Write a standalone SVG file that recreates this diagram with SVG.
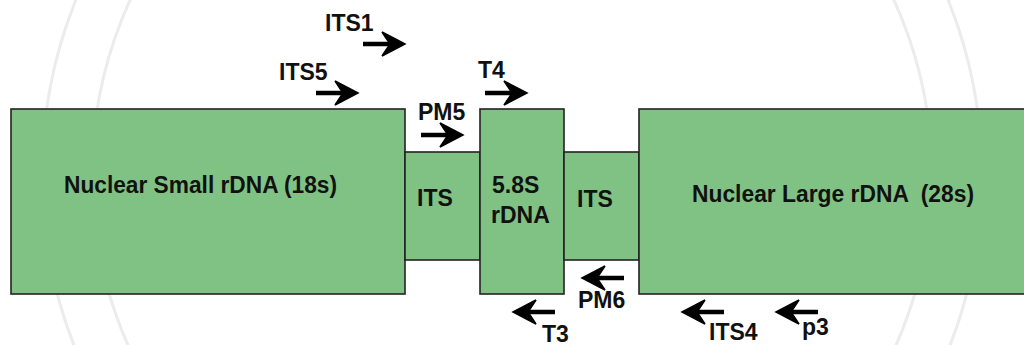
<svg xmlns="http://www.w3.org/2000/svg" xmlns:xlink="http://www.w3.org/1999/xlink" width="1024" height="345" viewBox="0 0 1024 345">
  <style>
    .box { fill: #80c283; stroke: #222; stroke-width: 1.6; }
    .lbl { font-family: "Liberation Sans", Arial, sans-serif; font-weight: bold; font-size: 23px; fill: #111; }
    .main { font-family: "Liberation Sans", Arial, sans-serif; font-weight: bold; font-size: 23px; fill: #111; }
    .wm { fill: none; stroke: #ececec; stroke-width: 3; }
  </style>
  <defs>
    <g id="arrowR">
      <line x1="-42" y1="0" x2="-14" y2="0" stroke="#000" stroke-width="4.5"/>
      <polygon points="0,0 -23,-12 -15,0 -23,12" fill="#000" stroke="#000" stroke-width="1.5" stroke-linejoin="miter"/>
    </g>
  </defs>
  <rect width="1024" height="345" fill="#fff"/>
  <g id="watermark">
    <circle class="wm" cx="512" cy="175" r="470"/>
    <circle class="wm" cx="512" cy="175" r="420"/>
  </g>

  <g id="n18s">
    <rect class="box" x="11" y="109" width="394" height="185"/>
    <text class="main" x="64" y="193" textLength="273" lengthAdjust="spacingAndGlyphs">Nuclear Small rDNA (18s)</text>
  </g>
  <g id="its1box">
    <rect class="box" x="405" y="152" width="75" height="108"/>
    <text class="lbl" x="417" y="206">ITS</text>
  </g>
  <g id="n58s">
    <rect class="box" x="480" y="109" width="84" height="185"/>
    <text class="lbl" x="492" y="193">5.8S</text>
    <text class="lbl" x="491" y="223">rDNA</text>
  </g>
  <g id="its2box">
    <rect class="box" x="564" y="152" width="75" height="108"/>
    <text class="lbl" x="577" y="207">ITS</text>
  </g>
  <g id="n28s">
    <rect class="box" x="639" y="109" width="400" height="185"/>
    <text class="main" x="692" y="202" textLength="282" lengthAdjust="spacingAndGlyphs" xml:space="preserve">Nuclear Large rDNA  (28s)</text>
  </g>

  <g id="primers">
    <use xlink:href="#arrowR" href="#arrowR" transform="translate(405,44)"/>
    <use xlink:href="#arrowR" href="#arrowR" transform="translate(358,93)"/>
    <use xlink:href="#arrowR" href="#arrowR" transform="translate(527,93)"/>
    <use xlink:href="#arrowR" href="#arrowR" transform="translate(463,135)"/>
    <use xlink:href="#arrowR" href="#arrowR" transform="translate(582,278) scale(-1,1)"/>
    <use xlink:href="#arrowR" href="#arrowR" transform="translate(513,312) scale(-1,1)"/>
    <use xlink:href="#arrowR" href="#arrowR" transform="translate(682,312) scale(-1,1)"/>
    <use xlink:href="#arrowR" href="#arrowR" transform="translate(776,312) scale(-1,1)"/>
  </g>
  <g id="primer-labels">
    <text class="lbl" x="325" y="31">ITS1</text>
    <text class="lbl" x="279" y="80">ITS5</text>
    <text class="lbl" x="478" y="78">T4</text>
    <text class="lbl" x="418" y="120">PM5</text>
    <text class="lbl" x="578" y="308">PM6</text>
    <text class="lbl" x="542" y="342">T3</text>
    <text class="lbl" x="709" y="340">ITS4</text>
    <text class="lbl" x="802" y="335">p3</text>
  </g>
</svg>
